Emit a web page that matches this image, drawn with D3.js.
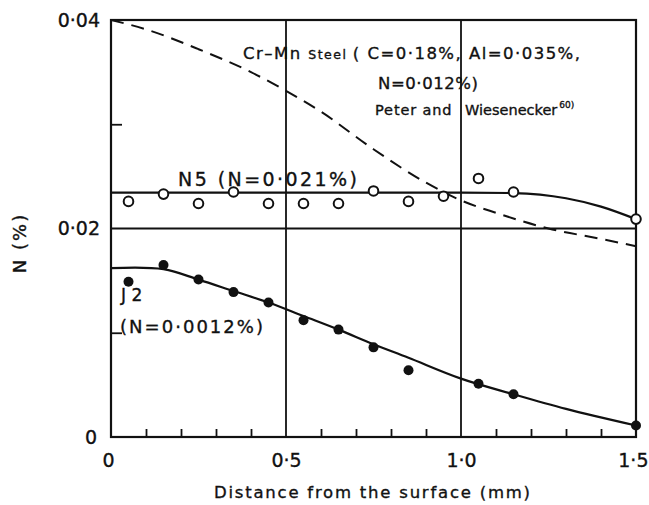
<!DOCTYPE html>
<html>
<head>
<meta charset="utf-8">
<script src="https://cdn.jsdelivr.net/npm/d3@7"></script>
<style>
  html, body { margin: 0; padding: 0; background: #fff; }
  svg { display: block; }
  text { font-family: "DejaVu Sans", sans-serif; fill: #111; stroke: #111; stroke-width: 0.35px; }
</style>
</head>
<body>
<svg id="chart" width="649" height="505"></svg>
<script>
// Nitrogen content vs. distance from the surface
const depthN5 = [0.05, 0.15, 0.25, 0.35, 0.45, 0.55, 0.65, 0.75, 0.85, 0.95, 1.05, 1.15, 1.5];
const nitrogenN5 = [0.0226, 0.0233, 0.0224, 0.0235, 0.0224, 0.0224, 0.0224, 0.0236, 0.0226, 0.0231, 0.0248, 0.0235, 0.0209];

const depthJ2 = [0.05, 0.15, 0.25, 0.35, 0.45, 0.55, 0.65, 0.75, 0.85, 1.05, 1.15, 1.5];
const nitrogenJ2 = [0.0149, 0.0165, 0.0151, 0.0139, 0.0129, 0.0112, 0.0103, 0.0086, 0.0064, 0.0051, 0.0041, 0.0011];

// fitted curves through the measurements
const fitDepthN5 = [0, 0.5, 1.0, 1.15, 1.3, 1.4, 1.5];
const fitN5 = [0.02345, 0.02345, 0.02345, 0.0234, 0.0229, 0.0221, 0.0209];

const fitDepthJ2 = [0, 0.15, 0.25, 0.35, 0.45, 0.55, 0.65, 0.75, 0.85, 1.0, 1.15, 1.3, 1.5];
const fitJ2 = [0.0162, 0.0161, 0.0151, 0.0140, 0.0129, 0.0116, 0.0103, 0.0089, 0.0076, 0.0056, 0.0041, 0.0027, 0.0011];

// Cr-Mn steel, Peter and Wiesenecker
const depthCrMn = [0, 0.1, 0.25, 0.4, 0.5, 0.6, 0.75, 0.9, 1.0, 1.1, 1.25, 1.4, 1.5];
const nitrogenCrMn = [0.0400, 0.0391, 0.0372, 0.0350, 0.0332, 0.0312, 0.0276, 0.0244, 0.0227, 0.0215, 0.0200, 0.0190, 0.0183];

const xMajorTicks = [0, 0.5, 1.0, 1.5];
const xMinorTicks = [0.1, 0.2, 0.3, 0.4, 0.6, 0.7, 0.8, 0.9, 1.1, 1.2, 1.3, 1.4];
const xTickLabels = ["0", "0·5", "1·0", "1·5"];
const yMajorTicks = [0, 0.02, 0.04];
const yMinorTicks = [0.01, 0.03];
const yTickLabels = ["0", "0·02", "0·04"];

const svg = d3.select("#chart");
const plotLeft = 111, plotRight = 636, plotTop = 20, plotBottom = 437;

const x = d3.scaleLinear().domain([0, 1.5]).range([plotLeft, plotRight]);
const y = d3.scaleLinear().domain([0, 0.04]).range([plotBottom, plotTop]);

// frame and grid lines
const frame = svg.append("g").attr("stroke", "#111").attr("fill", "none");
frame.append("rect")
  .attr("x", x(0)).attr("y", y(0.04))
  .attr("width", x(1.5) - x(0)).attr("height", y(0) - y(0.04))
  .attr("stroke-width", 2.2);
[0.5, 1.0].forEach(v => {
  frame.append("line")
    .attr("x1", x(v)).attr("x2", x(v))
    .attr("y1", y(0)).attr("y2", y(0.04))
    .attr("stroke-width", 1.8);
});
frame.append("line")
  .attr("x1", x(0)).attr("x2", x(1.5))
  .attr("y1", y(0.02)).attr("y2", y(0.02))
  .attr("stroke-width", 1.8);

// x axis: labels and inward minor ticks
const xAxis = svg.append("g")
  .attr("transform", `translate(0,${plotBottom})`)
  .call(d3.axisBottom(x).tickValues(xMajorTicks).tickSize(0).tickPadding(17)
    .tickFormat((d, i) => xTickLabels[i]));
xAxis.select(".domain").remove();
xAxis.selectAll("text").attr("font-size", 19).attr("font-family", "DejaVu Sans").attr("fill", "#111");
xAxis.selectAll(".tick").filter(d => d === 1.5).select("text")
  .attr("text-anchor", "end").attr("x", 12);
xAxis.selectAll(".tick").filter(d => d === 0).select("text").attr("x", -3);

const xMinor = svg.append("g")
  .attr("transform", `translate(0,${plotBottom})`)
  .call(d3.axisBottom(x).tickValues(xMinorTicks).tickSize(-8).tickFormat(""));
xMinor.select(".domain").remove();
xMinor.selectAll("line").attr("stroke", "#111").attr("stroke-width", 1.8);

// y axis: labels and inward minor ticks
const yAxis = svg.append("g")
  .attr("transform", `translate(${plotLeft},0)`)
  .call(d3.axisLeft(y).tickValues(yMajorTicks).tickSize(0).tickPadding(11)
    .tickFormat((d, i) => yTickLabels[i]));
yAxis.select(".domain").remove();
yAxis.selectAll("text").attr("font-size", 19).attr("font-family", "DejaVu Sans").attr("fill", "#111");
yAxis.selectAll(".tick").filter(d => d === 0).select("text").attr("x", -14);

const yMinor = svg.append("g")
  .attr("transform", `translate(${plotLeft},0)`)
  .call(d3.axisLeft(y).tickValues(yMinorTicks).tickSize(-11).tickFormat(""));
yMinor.select(".domain").remove();
yMinor.selectAll("line").attr("stroke", "#111").attr("stroke-width", 1.8);

// axis titles
svg.append("text")
  .attr("x", 372).attr("y", 498)
  .attr("text-anchor", "middle")
  .attr("font-size", 16.5)
  .attr("textLength", 316).attr("lengthAdjust", "spacing")
  .text("Distance from the surface (mm)");

svg.append("text")
  .attr("transform", "translate(26,243) rotate(-90)")
  .attr("text-anchor", "middle")
  .attr("font-size", 18)
  .attr("letter-spacing", 2)
  .text("N (%)");

// curves
const smooth = d3.line().x(d => x(d[0])).y(d => y(d[1])).curve(d3.curveMonotoneX);
const smoothCR = d3.line().x(d => x(d[0])).y(d => y(d[1])).curve(d3.curveCatmullRom.alpha(0.5));

svg.append("path")
  .datum(depthCrMn.map((d, i) => [d, nitrogenCrMn[i]]))
  .attr("d", smooth)
  .attr("fill", "none").attr("stroke", "#111").attr("stroke-width", 2)
  .attr("stroke-dasharray", "13,8");

svg.append("path")
  .datum(fitDepthN5.map((d, i) => [d, fitN5[i]]))
  .attr("d", smooth)
  .attr("fill", "none").attr("stroke", "#111").attr("stroke-width", 2.2);

svg.append("path")
  .datum(fitDepthJ2.map((d, i) => [d, fitJ2[i]]))
  .attr("d", smoothCR)
  .attr("fill", "none").attr("stroke", "#111").attr("stroke-width", 2.2);

// measured points
svg.append("g").selectAll("circle")
  .data(depthN5.map((d, i) => [d, nitrogenN5[i]]))
  .join("circle")
  .attr("cx", d => x(d[0])).attr("cy", d => y(d[1]))
  .attr("r", 4.8)
  .attr("fill", "#fff").attr("stroke", "#111").attr("stroke-width", 2);

svg.append("g").selectAll("circle")
  .data(depthJ2.map((d, i) => [d, nitrogenJ2[i]]))
  .join("circle")
  .attr("cx", d => x(d[0])).attr("cy", d => y(d[1]))
  .attr("r", 5)
  .attr("fill", "#111");

// annotations
const a1 = svg.append("text").attr("x", 243).attr("y", 59).attr("font-size", 16.5);
a1.append("tspan").text("Cr–Mn ");
a1.append("tspan").attr("font-size", 12.5).text(" Steel ");
a1.append("tspan").text("( C=0·18%, Al=0·035%,");
a1.attr("textLength", 337).attr("lengthAdjust", "spacing");

svg.append("text").attr("x", 378).attr("y", 89).attr("font-size", 16.5)
  .attr("textLength", 100).attr("lengthAdjust", "spacing")
  .text("N=0·012%)");

const a3 = svg.append("text").attr("x", 375).attr("y", 115).attr("font-size", 14.5);
a3.append("tspan").attr("textLength", 82).attr("lengthAdjust", "spacing").text("Peter and ");
a3.append("tspan").attr("x", 465).text("Wiesenecker");
a3.append("tspan").attr("font-size", 9).attr("dy", -7).attr("dx", 2).text("60)");

svg.append("text").attr("x", 178).attr("y", 186).attr("font-size", 19)
  .attr("textLength", 179).attr("lengthAdjust", "spacing")
  .text("N5 (N=0·021%)");

svg.append("text").attr("x", 121).attr("y", 301).attr("font-size", 17)
  .text("J 2");
svg.append("text").attr("x", 120).attr("y", 333).attr("font-size", 18)
  .attr("textLength", 143).attr("lengthAdjust", "spacing")
  .text("(N=0·0012%)");
</script>
</body>
</html>
